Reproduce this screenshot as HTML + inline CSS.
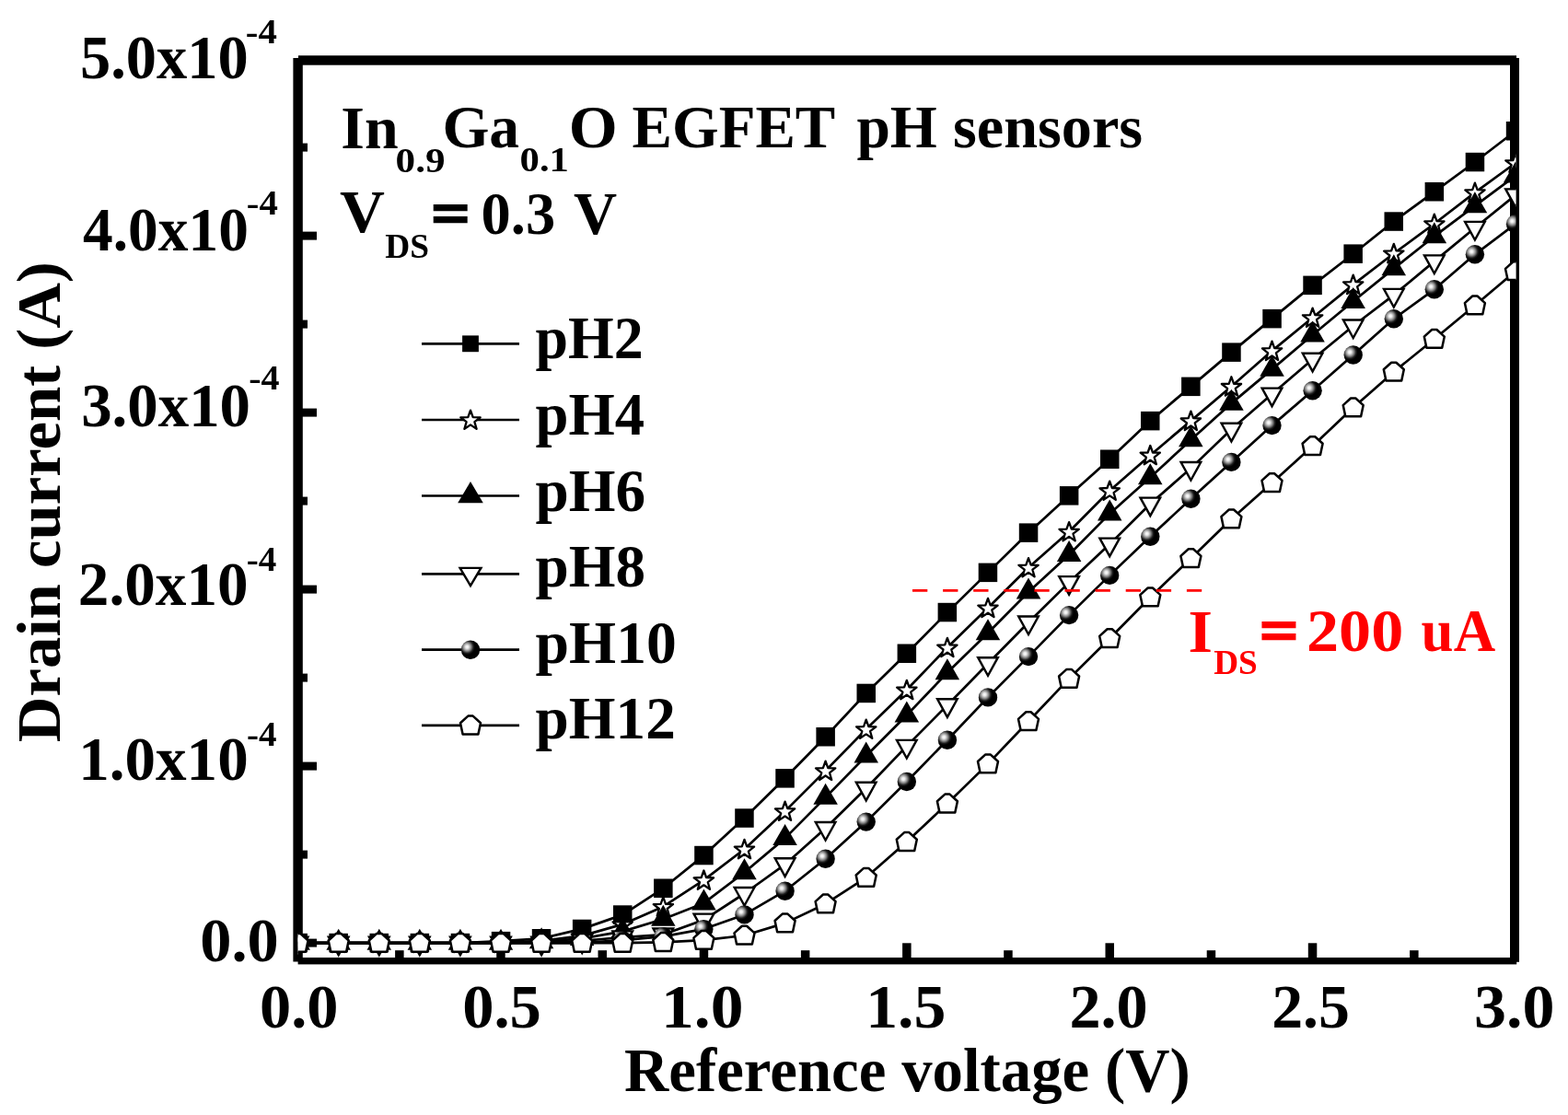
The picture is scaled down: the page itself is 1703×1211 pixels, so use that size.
<!DOCTYPE html>
<html><head><meta charset="utf-8"><title>Drain current vs Reference voltage</title>
<style>
html,body{margin:0;padding:0;background:#fff;}
body{width:1703px;height:1211px;overflow:hidden;}
svg{display:block;}
text{font-family:"Liberation Serif","Times New Roman",serif;font-weight:bold;fill:#000;}
.o{fill:#fff;stroke:#000;stroke-width:2.4;stroke-linejoin:miter;}
.os{fill:#fff;stroke:#000;stroke-width:2.3;stroke-linejoin:round;}
.op{fill:#fff;stroke:#000;stroke-width:2.5;stroke-linejoin:round;}
.ln{fill:none;stroke:#000;stroke-width:2.7;stroke-linejoin:round;}
</style></head><body>
<svg width="1703" height="1211" viewBox="0 0 1703 1211">
<defs>
<radialGradient id="ball" cx="0.32" cy="0.35" r="0.42" fx="0.32" fy="0.35">
<stop offset="0" stop-color="#fff"/>
<stop offset="0.2" stop-color="#e8e8e8"/>
<stop offset="0.5" stop-color="#8c8c8c"/>
<stop offset="0.8" stop-color="#1c1c1c"/>
<stop offset="1" stop-color="#000"/>
</radialGradient>
<clipPath id="plot"><rect x="323.6" y="65" width="1323" height="978.7"/></clipPath>
</defs>
<rect x="0" y="0" width="1703" height="1211" fill="#fff"/>

<g fill="#000">
<rect x="318.4" y="63" width="10.4" height="981.5"/>
<rect x="324" y="60.3" width="1323" height="10.4"/>
<rect x="1640" y="63" width="10" height="981.8"/>
<rect x="323.6" y="1040" width="1323.6" height="7.4"/>
</g>
<g fill="#000"><rect x="328" y="1019.6" width="16" height="9"/><rect x="328" y="827.6" width="16" height="9"/><rect x="328" y="635.6" width="16" height="9"/><rect x="328" y="443.6" width="16" height="9"/><rect x="328" y="251.6" width="16" height="9"/><rect x="328" y="923.6" width="6" height="9"/><rect x="328" y="731.6" width="6" height="9"/><rect x="328" y="539.6" width="6" height="9"/><rect x="328" y="347.6" width="6" height="9"/><rect x="328" y="155.6" width="6" height="9"/><rect x="539.2" y="1024.3" width="9.5" height="16"/><rect x="759.7" y="1024.3" width="9.5" height="16"/><rect x="980.1" y="1024.3" width="9.5" height="16"/><rect x="1200.5" y="1024.3" width="9.5" height="16"/><rect x="1420.8" y="1024.3" width="9.5" height="16"/><rect x="429.1" y="1032.2" width="9.5" height="8"/><rect x="649.5" y="1032.2" width="9.5" height="8"/><rect x="869.9" y="1032.2" width="9.5" height="8"/><rect x="1090.2" y="1032.2" width="9.5" height="8"/><rect x="1310.7" y="1032.2" width="9.5" height="8"/><rect x="1531.1" y="1032.2" width="9.5" height="8"/></g>
<g clip-path="url(#plot)">
<polyline class="ln" points="323.6,1024.1 367.7,1024.1 411.8,1024.1 455.8,1024.1 499.9,1024.1 544.0,1022.2 588.1,1019.3 632.2,1008.9 676.2,993.6 720.3,964.8 764.4,929.1 808.5,888.5 852.6,845.3 896.6,800.2 940.7,753.0 984.8,709.8 1028.9,665.1 1073.0,621.9 1117.0,578.7 1161.1,538.3 1205.2,498.8 1249.3,457.1 1293.4,419.9 1337.4,382.6 1381.5,346.1 1425.6,309.9 1469.7,275.7 1513.8,240.5 1557.8,208.3 1601.9,176.0 1646.0,142.2"/>
<g><rect x="313.4" y="1013.8" width="20.5" height="20.5"/><rect x="357.4" y="1013.8" width="20.5" height="20.5"/><rect x="401.5" y="1013.8" width="20.5" height="20.5"/><rect x="445.6" y="1013.8" width="20.5" height="20.5"/><rect x="489.7" y="1013.8" width="20.5" height="20.5"/><rect x="533.8" y="1011.9" width="20.5" height="20.5"/><rect x="577.8" y="1009.0" width="20.5" height="20.5"/><rect x="621.9" y="998.7" width="20.5" height="20.5"/><rect x="666.0" y="983.3" width="20.5" height="20.5"/><rect x="710.1" y="954.5" width="20.5" height="20.5"/><rect x="754.2" y="918.8" width="20.5" height="20.5"/><rect x="798.2" y="878.3" width="20.5" height="20.5"/><rect x="842.3" y="835.1" width="20.5" height="20.5"/><rect x="886.4" y="790.0" width="20.5" height="20.5"/><rect x="930.5" y="742.7" width="20.5" height="20.5"/><rect x="974.6" y="699.5" width="20.5" height="20.5"/><rect x="1018.6" y="654.8" width="20.5" height="20.5"/><rect x="1062.7" y="611.6" width="20.5" height="20.5"/><rect x="1106.8" y="568.4" width="20.5" height="20.5"/><rect x="1150.9" y="528.1" width="20.5" height="20.5"/><rect x="1195.0" y="488.5" width="20.5" height="20.5"/><rect x="1239.0" y="446.9" width="20.5" height="20.5"/><rect x="1283.1" y="409.6" width="20.5" height="20.5"/><rect x="1327.2" y="372.4" width="20.5" height="20.5"/><rect x="1371.3" y="335.9" width="20.5" height="20.5"/><rect x="1415.3" y="299.6" width="20.5" height="20.5"/><rect x="1459.4" y="265.4" width="20.5" height="20.5"/><rect x="1503.5" y="230.3" width="20.5" height="20.5"/><rect x="1547.6" y="198.0" width="20.5" height="20.5"/><rect x="1591.7" y="165.8" width="20.5" height="20.5"/><rect x="1635.8" y="132.0" width="20.5" height="20.5"/></g>
<polyline class="ln" points="323.6,1024.1 367.7,1024.1 411.8,1024.1 455.8,1024.1 499.9,1024.1 544.0,1024.1 588.1,1021.8 632.2,1016.4 676.2,1003.9 720.3,984.7 764.4,955.9 808.5,922.3 852.6,881.1 896.6,837.1 940.7,792.0 984.8,749.3 1028.9,703.3 1073.0,660.3 1117.0,616.5 1161.1,577.5 1205.2,533.0 1249.3,494.4 1293.4,457.1 1337.4,419.7 1381.5,381.1 1425.6,345.0 1469.7,309.1 1513.8,275.3 1557.8,243.0 1601.9,209.1 1646.0,177.0"/>
<g><polygon class="os" points="323.6,1013.7 326.3,1021.2 334.3,1021.4 328.0,1026.3 330.2,1034.0 323.6,1029.5 317.0,1034.0 319.2,1026.3 312.9,1021.4 320.9,1021.2"/><polygon class="os" points="367.7,1013.7 370.4,1021.2 378.3,1021.4 372.1,1026.3 374.3,1034.0 367.7,1029.5 361.1,1034.0 363.3,1026.3 357.0,1021.4 365.0,1021.2"/><polygon class="os" points="411.8,1013.7 414.5,1021.2 422.4,1021.4 416.1,1026.3 418.3,1034.0 411.8,1029.5 405.2,1034.0 407.4,1026.3 401.1,1021.4 409.1,1021.2"/><polygon class="os" points="455.8,1013.7 458.5,1021.2 466.5,1021.4 460.2,1026.3 462.4,1034.0 455.8,1029.5 449.3,1034.0 451.5,1026.3 445.2,1021.4 453.1,1021.2"/><polygon class="os" points="499.9,1013.7 502.6,1021.2 510.6,1021.4 504.3,1026.3 506.5,1034.0 499.9,1029.5 493.3,1034.0 495.5,1026.3 489.3,1021.4 497.2,1021.2"/><polygon class="os" points="544.0,1013.7 546.7,1021.2 554.7,1021.4 548.4,1026.3 550.6,1034.0 544.0,1029.5 537.4,1034.0 539.6,1026.3 533.3,1021.4 541.3,1021.2"/><polygon class="os" points="588.1,1011.4 590.8,1018.9 598.7,1019.1 592.5,1024.0 594.7,1031.7 588.1,1027.2 581.5,1031.7 583.7,1024.0 577.4,1019.1 585.4,1018.9"/><polygon class="os" points="632.2,1006.0 634.9,1013.5 642.8,1013.8 636.5,1018.6 638.7,1026.3 632.2,1021.8 625.6,1026.3 627.8,1018.6 621.5,1013.8 629.5,1013.5"/><polygon class="os" points="676.2,993.5 678.9,1001.0 686.9,1001.3 680.6,1006.2 682.8,1013.8 676.2,1009.3 669.7,1013.8 671.9,1006.2 665.6,1001.3 673.5,1001.0"/><polygon class="os" points="720.3,974.3 723.0,981.8 731.0,982.1 724.7,987.0 726.9,994.6 720.3,990.1 713.7,994.6 715.9,987.0 709.7,982.1 717.6,981.8"/><polygon class="os" points="764.4,945.5 767.1,953.0 775.1,953.3 768.8,958.2 771.0,965.8 764.4,961.3 757.8,965.8 760.0,958.2 753.7,953.3 761.7,953.0"/><polygon class="os" points="808.5,911.9 811.2,919.4 819.1,919.7 812.9,924.6 815.1,932.2 808.5,927.7 801.9,932.2 804.1,924.6 797.8,919.7 805.8,919.4"/><polygon class="os" points="852.6,870.7 855.3,878.1 863.2,878.4 856.9,883.3 859.1,890.9 852.6,886.5 846.0,890.9 848.2,883.3 841.9,878.4 849.9,878.1"/><polygon class="os" points="896.6,826.7 899.3,834.2 907.3,834.4 901.0,839.3 903.2,847.0 896.6,842.5 890.1,847.0 892.3,839.3 886.0,834.4 893.9,834.2"/><polygon class="os" points="940.7,781.6 943.4,789.1 951.4,789.3 945.1,794.2 947.3,801.8 940.7,797.4 934.1,801.8 936.3,794.2 930.1,789.3 938.0,789.1"/><polygon class="os" points="984.8,738.9 987.5,746.4 995.5,746.7 989.2,751.6 991.4,759.2 984.8,754.7 978.2,759.2 980.4,751.6 974.1,746.7 982.1,746.4"/><polygon class="os" points="1028.9,692.9 1031.6,700.3 1039.5,700.6 1033.3,705.5 1035.5,713.1 1028.9,708.7 1022.3,713.1 1024.5,705.5 1018.2,700.6 1026.2,700.3"/><polygon class="os" points="1073.0,649.9 1075.7,657.3 1083.6,657.6 1077.3,662.5 1079.5,670.1 1073.0,665.7 1066.4,670.1 1068.6,662.5 1062.3,657.6 1070.3,657.3"/><polygon class="os" points="1117.0,606.1 1119.7,613.6 1127.7,613.8 1121.4,618.7 1123.6,626.3 1117.0,621.9 1110.5,626.3 1112.7,618.7 1106.4,613.8 1114.3,613.6"/><polygon class="os" points="1161.1,567.1 1163.8,574.6 1171.8,574.8 1165.5,579.7 1167.7,587.4 1161.1,582.9 1154.5,587.4 1156.7,579.7 1150.5,574.8 1158.4,574.6"/><polygon class="os" points="1205.2,522.6 1207.9,530.0 1215.9,530.3 1209.6,535.2 1211.8,542.8 1205.2,538.4 1198.6,542.8 1200.8,535.2 1194.5,530.3 1202.5,530.0"/><polygon class="os" points="1249.3,484.0 1252.0,491.5 1259.9,491.7 1253.7,496.6 1255.9,504.2 1249.3,499.8 1242.7,504.2 1244.9,496.6 1238.6,491.7 1246.6,491.5"/><polygon class="os" points="1293.4,446.7 1296.1,454.2 1304.0,454.5 1297.7,459.3 1299.9,467.0 1293.4,462.5 1286.8,467.0 1289.0,459.3 1282.7,454.5 1290.7,454.2"/><polygon class="os" points="1337.4,409.3 1340.1,416.8 1348.1,417.0 1341.8,421.9 1344.0,429.5 1337.4,425.1 1330.9,429.5 1333.1,421.9 1326.8,417.0 1334.7,416.8"/><polygon class="os" points="1381.5,370.7 1384.2,378.2 1392.2,378.4 1385.9,383.3 1388.1,391.0 1381.5,386.5 1374.9,391.0 1377.1,383.3 1370.9,378.4 1378.8,378.2"/><polygon class="os" points="1425.6,334.6 1428.3,342.1 1436.3,342.3 1430.0,347.2 1432.2,354.9 1425.6,350.4 1419.0,354.9 1421.2,347.2 1414.9,342.3 1422.9,342.1"/><polygon class="os" points="1469.7,298.7 1472.4,306.2 1480.3,306.4 1474.1,311.3 1476.3,319.0 1469.7,314.5 1463.1,319.0 1465.3,311.3 1459.0,306.4 1467.0,306.2"/><polygon class="os" points="1513.8,264.9 1516.5,272.4 1524.4,272.6 1518.1,277.5 1520.3,285.2 1513.8,280.7 1507.2,285.2 1509.4,277.5 1503.1,272.6 1511.1,272.4"/><polygon class="os" points="1557.8,232.6 1560.5,240.1 1568.5,240.4 1562.2,245.3 1564.4,252.9 1557.8,248.4 1551.3,252.9 1553.5,245.3 1547.2,240.4 1555.1,240.1"/><polygon class="os" points="1601.9,198.7 1604.6,206.1 1612.6,206.4 1606.3,211.3 1608.5,218.9 1601.9,214.5 1595.3,218.9 1597.5,211.3 1591.3,206.4 1599.2,206.1"/><polygon class="os" points="1646.0,166.6 1648.7,174.1 1656.7,174.3 1650.4,179.2 1652.6,186.9 1646.0,182.4 1639.4,186.9 1641.6,179.2 1635.3,174.3 1643.3,174.1"/></g>
<polyline class="ln" points="323.6,1024.1 367.7,1024.1 411.8,1024.1 455.8,1024.1 499.9,1024.1 544.0,1024.1 588.1,1022.6 632.2,1019.3 676.2,1011.6 720.3,998.2 764.4,980.9 808.5,947.5 852.6,910.4 896.6,866.1 940.7,821.0 984.8,776.8 1028.9,730.5 1073.0,687.5 1117.0,643.0 1161.1,602.5 1205.2,557.9 1249.3,518.6 1293.4,477.7 1337.4,438.1 1381.5,401.1 1425.6,363.8 1469.7,327.3 1513.8,291.6 1557.8,256.7 1601.9,223.7 1646.0,190.8"/>
<g><polygon points="323.6,1008.8 336.9,1031.8 310.4,1031.8"/><polygon points="367.7,1008.8 380.9,1031.8 354.4,1031.8"/><polygon points="411.8,1008.8 425.0,1031.8 398.5,1031.8"/><polygon points="455.8,1008.8 469.1,1031.8 442.6,1031.8"/><polygon points="499.9,1008.8 513.2,1031.8 486.7,1031.8"/><polygon points="544.0,1008.8 557.2,1031.8 530.8,1031.8"/><polygon points="588.1,1007.2 601.3,1030.2 574.8,1030.2"/><polygon points="632.2,1004.0 645.4,1027.0 618.9,1027.0"/><polygon points="676.2,996.3 689.5,1019.3 663.0,1019.3"/><polygon points="720.3,982.8 733.6,1005.8 707.1,1005.8"/><polygon points="764.4,965.6 777.7,988.6 751.2,988.6"/><polygon points="808.5,932.2 821.7,955.2 795.2,955.2"/><polygon points="852.6,895.1 865.8,918.1 839.3,918.1"/><polygon points="896.6,850.8 909.9,873.8 883.4,873.8"/><polygon points="940.7,805.6 954.0,828.6 927.5,828.6"/><polygon points="984.8,761.5 998.1,784.5 971.6,784.5"/><polygon points="1028.9,715.2 1042.1,738.2 1015.6,738.2"/><polygon points="1073.0,672.2 1086.2,695.2 1059.7,695.2"/><polygon points="1117.0,627.6 1130.3,650.6 1103.8,650.6"/><polygon points="1161.1,587.1 1174.4,610.1 1147.9,610.1"/><polygon points="1205.2,542.6 1218.5,565.6 1192.0,565.6"/><polygon points="1249.3,503.2 1262.5,526.2 1236.0,526.2"/><polygon points="1293.4,462.3 1306.6,485.3 1280.1,485.3"/><polygon points="1337.4,422.8 1350.7,445.8 1324.2,445.8"/><polygon points="1381.5,385.7 1394.8,408.7 1368.3,408.7"/><polygon points="1425.6,348.5 1438.8,371.5 1412.3,371.5"/><polygon points="1469.7,312.0 1482.9,335.0 1456.4,335.0"/><polygon points="1513.8,276.3 1527.0,299.3 1500.5,299.3"/><polygon points="1557.8,241.3 1571.1,264.3 1544.6,264.3"/><polygon points="1601.9,208.3 1615.2,231.3 1588.7,231.3"/><polygon points="1646.0,175.5 1659.2,198.5 1632.8,198.5"/></g>
<polyline class="ln" points="323.6,1024.1 367.7,1024.1 411.8,1024.1 455.8,1024.1 499.9,1024.1 544.0,1024.1 588.1,1024.1 632.2,1021.8 676.2,1018.0 720.3,1015.1 764.4,999.1 808.5,970.5 852.6,938.9 896.6,899.5 940.7,856.3 984.8,810.4 1028.9,765.9 1073.0,720.7 1117.0,676.0 1161.1,632.6 1205.2,591.1 1249.3,547.2 1293.4,508.6 1337.4,466.3 1381.5,428.1 1425.6,390.3 1469.7,354.0 1513.8,320.4 1557.8,283.9 1601.9,247.5 1646.0,211.9"/>
<g><polygon class="o" points="312.8,1017.6 334.4,1017.6 323.6,1037.2"/><polygon class="o" points="356.9,1017.6 378.5,1017.6 367.7,1037.2"/><polygon class="o" points="401.0,1017.6 422.6,1017.6 411.8,1037.2"/><polygon class="o" points="445.0,1017.6 466.6,1017.6 455.8,1037.2"/><polygon class="o" points="489.1,1017.6 510.7,1017.6 499.9,1037.2"/><polygon class="o" points="533.2,1017.6 554.8,1017.6 544.0,1037.2"/><polygon class="o" points="577.3,1017.6 598.9,1017.6 588.1,1037.2"/><polygon class="o" points="621.4,1015.3 643.0,1015.3 632.2,1034.9"/><polygon class="o" points="665.4,1011.4 687.0,1011.4 676.2,1031.0"/><polygon class="o" points="709.5,1008.5 731.1,1008.5 720.3,1028.1"/><polygon class="o" points="753.6,992.6 775.2,992.6 764.4,1012.2"/><polygon class="o" points="797.7,964.0 819.3,964.0 808.5,983.6"/><polygon class="o" points="841.8,932.3 863.4,932.3 852.6,951.9"/><polygon class="o" points="885.8,893.0 907.4,893.0 896.6,912.6"/><polygon class="o" points="929.9,849.8 951.5,849.8 940.7,869.4"/><polygon class="o" points="974.0,803.9 995.6,803.9 984.8,823.5"/><polygon class="o" points="1018.1,759.3 1039.7,759.3 1028.9,778.9"/><polygon class="o" points="1062.2,714.2 1083.8,714.2 1073.0,733.8"/><polygon class="o" points="1106.2,669.5 1127.8,669.5 1117.0,689.1"/><polygon class="o" points="1150.3,626.1 1171.9,626.1 1161.1,645.7"/><polygon class="o" points="1194.4,584.6 1216.0,584.6 1205.2,604.2"/><polygon class="o" points="1238.5,540.6 1260.1,540.6 1249.3,560.2"/><polygon class="o" points="1282.6,502.0 1304.2,502.0 1293.4,521.6"/><polygon class="o" points="1326.6,459.8 1348.2,459.8 1337.4,479.4"/><polygon class="o" points="1370.7,421.6 1392.3,421.6 1381.5,441.2"/><polygon class="o" points="1414.8,383.8 1436.4,383.8 1425.6,403.4"/><polygon class="o" points="1458.9,347.5 1480.5,347.5 1469.7,367.1"/><polygon class="o" points="1503.0,313.9 1524.6,313.9 1513.8,333.5"/><polygon class="o" points="1547.0,277.4 1568.6,277.4 1557.8,297.0"/><polygon class="o" points="1591.1,240.9 1612.7,240.9 1601.9,260.5"/><polygon class="o" points="1635.2,205.4 1656.8,205.4 1646.0,225.0"/></g>
<polyline class="ln" points="323.6,1024.1 367.7,1024.1 411.8,1024.1 455.8,1024.1 499.9,1024.1 544.0,1024.1 588.1,1024.1 632.2,1024.1 676.2,1021.2 720.3,1017.2 764.4,1009.1 808.5,993.4 852.6,967.7 896.6,932.7 940.7,892.6 984.8,849.0 1028.9,803.7 1073.0,757.4 1117.0,713.1 1161.1,668.1 1205.2,624.9 1249.3,582.7 1293.4,541.8 1337.4,501.9 1381.5,462.1 1425.6,424.3 1469.7,385.5 1513.8,346.3 1557.8,314.3 1601.9,276.3 1646.0,243.2"/>
<g><circle cx="323.6" cy="1024.1" r="10.2" fill="url(#ball)"/><circle cx="367.7" cy="1024.1" r="10.2" fill="url(#ball)"/><circle cx="411.8" cy="1024.1" r="10.2" fill="url(#ball)"/><circle cx="455.8" cy="1024.1" r="10.2" fill="url(#ball)"/><circle cx="499.9" cy="1024.1" r="10.2" fill="url(#ball)"/><circle cx="544.0" cy="1024.1" r="10.2" fill="url(#ball)"/><circle cx="588.1" cy="1024.1" r="10.2" fill="url(#ball)"/><circle cx="632.2" cy="1024.1" r="10.2" fill="url(#ball)"/><circle cx="676.2" cy="1021.2" r="10.2" fill="url(#ball)"/><circle cx="720.3" cy="1017.2" r="10.2" fill="url(#ball)"/><circle cx="764.4" cy="1009.1" r="10.2" fill="url(#ball)"/><circle cx="808.5" cy="993.4" r="10.2" fill="url(#ball)"/><circle cx="852.6" cy="967.7" r="10.2" fill="url(#ball)"/><circle cx="896.6" cy="932.7" r="10.2" fill="url(#ball)"/><circle cx="940.7" cy="892.6" r="10.2" fill="url(#ball)"/><circle cx="984.8" cy="849.0" r="10.2" fill="url(#ball)"/><circle cx="1028.9" cy="803.7" r="10.2" fill="url(#ball)"/><circle cx="1073.0" cy="757.4" r="10.2" fill="url(#ball)"/><circle cx="1117.0" cy="713.1" r="10.2" fill="url(#ball)"/><circle cx="1161.1" cy="668.1" r="10.2" fill="url(#ball)"/><circle cx="1205.2" cy="624.9" r="10.2" fill="url(#ball)"/><circle cx="1249.3" cy="582.7" r="10.2" fill="url(#ball)"/><circle cx="1293.4" cy="541.8" r="10.2" fill="url(#ball)"/><circle cx="1337.4" cy="501.9" r="10.2" fill="url(#ball)"/><circle cx="1381.5" cy="462.1" r="10.2" fill="url(#ball)"/><circle cx="1425.6" cy="424.3" r="10.2" fill="url(#ball)"/><circle cx="1469.7" cy="385.5" r="10.2" fill="url(#ball)"/><circle cx="1513.8" cy="346.3" r="10.2" fill="url(#ball)"/><circle cx="1557.8" cy="314.3" r="10.2" fill="url(#ball)"/><circle cx="1601.9" cy="276.3" r="10.2" fill="url(#ball)"/><circle cx="1646.0" cy="243.2" r="10.2" fill="url(#ball)"/></g>
<polyline class="ln" points="323.6,1024.1 367.7,1024.1 411.8,1024.1 455.8,1024.1 499.9,1024.1 544.0,1024.1 588.1,1024.1 632.2,1024.1 676.2,1024.1 720.3,1023.3 764.4,1021.2 808.5,1016.0 852.6,1002.6 896.6,981.7 940.7,953.1 984.8,914.3 1028.9,872.8 1073.0,829.6 1117.0,783.5 1161.1,737.1 1205.2,693.5 1249.3,648.7 1293.4,606.5 1337.4,563.7 1381.5,524.5 1425.6,484.4 1469.7,442.7 1513.8,403.9 1557.8,368.2 1601.9,331.7 1646.0,294.5"/>
<g><polygon class="op" points="321.0,1013.9 326.2,1013.9 334.6,1021.5 332.0,1033.7 315.2,1033.7 312.6,1021.5"/><polygon class="op" points="365.1,1013.9 370.3,1013.9 378.7,1021.5 376.1,1033.7 359.3,1033.7 356.7,1021.5"/><polygon class="op" points="409.2,1013.9 414.4,1013.9 422.8,1021.5 420.2,1033.7 403.4,1033.7 400.8,1021.5"/><polygon class="op" points="453.2,1013.9 458.4,1013.9 466.8,1021.5 464.2,1033.7 447.4,1033.7 444.8,1021.5"/><polygon class="op" points="497.3,1013.9 502.5,1013.9 510.9,1021.5 508.3,1033.7 491.5,1033.7 488.9,1021.5"/><polygon class="op" points="541.4,1013.9 546.6,1013.9 555.0,1021.5 552.4,1033.7 535.6,1033.7 533.0,1021.5"/><polygon class="op" points="585.5,1013.9 590.7,1013.9 599.1,1021.5 596.5,1033.7 579.7,1033.7 577.1,1021.5"/><polygon class="op" points="629.6,1013.9 634.8,1013.9 643.2,1021.5 640.6,1033.7 623.8,1033.7 621.2,1021.5"/><polygon class="op" points="673.6,1013.9 678.8,1013.9 687.2,1021.5 684.6,1033.7 667.8,1033.7 665.2,1021.5"/><polygon class="op" points="717.7,1013.1 722.9,1013.1 731.3,1020.7 728.7,1032.9 711.9,1032.9 709.3,1020.7"/><polygon class="op" points="761.8,1011.0 767.0,1011.0 775.4,1018.6 772.8,1030.8 756.0,1030.8 753.4,1018.6"/><polygon class="op" points="805.9,1005.8 811.1,1005.8 819.5,1013.4 816.9,1025.6 800.1,1025.6 797.5,1013.4"/><polygon class="op" points="850.0,992.4 855.2,992.4 863.6,1000.0 861.0,1012.2 844.2,1012.2 841.6,1000.0"/><polygon class="op" points="894.0,971.5 899.2,971.5 907.6,979.1 905.0,991.3 888.2,991.3 885.6,979.1"/><polygon class="op" points="938.1,942.9 943.3,942.9 951.7,950.5 949.1,962.7 932.3,962.7 929.7,950.5"/><polygon class="op" points="982.2,904.1 987.4,904.1 995.8,911.7 993.2,923.9 976.4,923.9 973.8,911.7"/><polygon class="op" points="1026.3,862.6 1031.5,862.6 1039.9,870.2 1037.3,882.4 1020.5,882.4 1017.9,870.2"/><polygon class="op" points="1070.4,819.4 1075.6,819.4 1084.0,827.0 1081.4,839.2 1064.6,839.2 1062.0,827.0"/><polygon class="op" points="1114.4,773.3 1119.6,773.3 1128.0,780.9 1125.4,793.1 1108.6,793.1 1106.0,780.9"/><polygon class="op" points="1158.5,726.9 1163.7,726.9 1172.1,734.5 1169.5,746.7 1152.7,746.7 1150.1,734.5"/><polygon class="op" points="1202.6,683.3 1207.8,683.3 1216.2,690.9 1213.6,703.1 1196.8,703.1 1194.2,690.9"/><polygon class="op" points="1246.7,638.5 1251.9,638.5 1260.3,646.1 1257.7,658.3 1240.9,658.3 1238.3,646.1"/><polygon class="op" points="1290.8,596.3 1296.0,596.3 1304.4,603.9 1301.8,616.1 1285.0,616.1 1282.4,603.9"/><polygon class="op" points="1334.8,553.5 1340.0,553.5 1348.4,561.1 1345.8,573.3 1329.0,573.3 1326.4,561.1"/><polygon class="op" points="1378.9,514.3 1384.1,514.3 1392.5,521.9 1389.9,534.1 1373.1,534.1 1370.5,521.9"/><polygon class="op" points="1423.0,474.2 1428.2,474.2 1436.6,481.8 1434.0,494.0 1417.2,494.0 1414.6,481.8"/><polygon class="op" points="1467.1,432.5 1472.3,432.5 1480.7,440.1 1478.1,452.3 1461.3,452.3 1458.7,440.1"/><polygon class="op" points="1511.2,393.7 1516.4,393.7 1524.8,401.3 1522.2,413.5 1505.4,413.5 1502.8,401.3"/><polygon class="op" points="1555.2,358.0 1560.4,358.0 1568.8,365.6 1566.2,377.8 1549.4,377.8 1546.8,365.6"/><polygon class="op" points="1599.3,321.5 1604.5,321.5 1612.9,329.1 1610.3,341.3 1593.5,341.3 1590.9,329.1"/><polygon class="op" points="1643.4,284.3 1648.6,284.3 1657.0,291.9 1654.4,304.1 1637.6,304.1 1635.0,291.9"/></g>
</g>
<line x1="991" y1="641.4" x2="1306" y2="641.4" stroke="#f00" stroke-width="2.9" stroke-dasharray="16.3 16.8"/>
<text x="87.00" y="84.80" font-size="67" textLength="182.81" lengthAdjust="spacingAndGlyphs">5.0x10</text>
<text x="266.80" y="47.30" font-size="38" textLength="34.01" lengthAdjust="spacingAndGlyphs">-4</text>
<text x="90.00" y="271.70" font-size="67" textLength="179.96" lengthAdjust="spacingAndGlyphs">4.0x10</text>
<text x="267.80" y="232.80" font-size="38" textLength="34.01" lengthAdjust="spacingAndGlyphs">-4</text>
<text x="88.20" y="462.70" font-size="67" textLength="183.83" lengthAdjust="spacingAndGlyphs">3.0x10</text>
<text x="270.20" y="422.80" font-size="38" textLength="33.36" lengthAdjust="spacingAndGlyphs">-4</text>
<text x="84.80" y="657.40" font-size="67" textLength="184.87" lengthAdjust="spacingAndGlyphs">2.0x10</text>
<text x="267.80" y="619.60" font-size="38" textLength="32.57" lengthAdjust="spacingAndGlyphs">-4</text>
<text x="85.20" y="847.00" font-size="67" textLength="184.48" lengthAdjust="spacingAndGlyphs">1.0x10</text>
<text x="268.00" y="810.00" font-size="38" textLength="32.53" lengthAdjust="spacingAndGlyphs">-4</text>
<text x="217.20" y="1044.30" font-size="67" textLength="85.48" lengthAdjust="spacingAndGlyphs">0.0</text>
<text x="282.00" y="1116.40" font-size="67" textLength="85.46" lengthAdjust="spacingAndGlyphs">0.0</text>
<text x="502.20" y="1116.40" font-size="67" textLength="85.70" lengthAdjust="spacingAndGlyphs">0.5</text>
<text x="718.00" y="1116.40" font-size="67" textLength="89.49" lengthAdjust="spacingAndGlyphs">1.0</text>
<text x="940.20" y="1116.40" font-size="67" textLength="87.28" lengthAdjust="spacingAndGlyphs">1.5</text>
<text x="1161.40" y="1116.40" font-size="67" textLength="85.27" lengthAdjust="spacingAndGlyphs">2.0</text>
<text x="1381.20" y="1116.40" font-size="67" textLength="84.84" lengthAdjust="spacingAndGlyphs">2.5</text>
<text x="1601.00" y="1116.40" font-size="67" textLength="87.43" lengthAdjust="spacingAndGlyphs">3.0</text>
<text x="678.00" y="1184.80" font-size="67" textLength="614.76" lengthAdjust="spacingAndGlyphs">Reference voltage (V)</text>
<text x="370.20" y="160.70" font-size="66" textLength="62.42" lengthAdjust="spacingAndGlyphs">In</text>
<text x="429.60" y="187.00" font-size="38" textLength="53.88" lengthAdjust="spacingAndGlyphs">0.9</text>
<text x="480.40" y="160.30" font-size="66" textLength="83.72" lengthAdjust="spacingAndGlyphs">Ga</text>
<text x="564.60" y="186.00" font-size="38" textLength="53.38" lengthAdjust="spacingAndGlyphs">0.1</text>
<text x="617.80" y="160.30" font-size="66" textLength="52.97" lengthAdjust="spacingAndGlyphs">O</text>
<text x="686.60" y="160.30" font-size="66" textLength="220.71" lengthAdjust="spacingAndGlyphs">EGFET</text>
<text x="930.40" y="160.30" font-size="66" textLength="87.46" lengthAdjust="spacingAndGlyphs">pH</text>
<text x="1035.00" y="160.30" font-size="66" textLength="206.16" lengthAdjust="spacingAndGlyphs">sensors</text>
<text x="369.00" y="252.30" font-size="66" textLength="48.94" lengthAdjust="spacingAndGlyphs">V</text>
<text x="418.20" y="279.60" font-size="38" textLength="47.76" lengthAdjust="spacingAndGlyphs">DS</text>
<text x="468.40" y="253.70" font-size="66" style="stroke:#000;stroke-width:2.6;" textLength="41.78" lengthAdjust="spacingAndGlyphs">=</text>
<text x="522.60" y="253.70" font-size="66" textLength="80.59" lengthAdjust="spacingAndGlyphs">0.3</text>
<text x="623.00" y="253.70" font-size="66" textLength="47.11" lengthAdjust="spacingAndGlyphs">V</text>
<text x="1290.40" y="707.70" font-size="66" style="fill:#f00;" textLength="26.46" lengthAdjust="spacingAndGlyphs">I</text>
<text x="1318.20" y="732.00" font-size="38" style="fill:#f00;" textLength="47.57" lengthAdjust="spacingAndGlyphs">DS</text>
<text x="1368.20" y="707.30" font-size="66" style="fill:#f00;stroke:#f00;stroke-width:2.6;" textLength="41.81" lengthAdjust="spacingAndGlyphs">=</text>
<text x="1419.00" y="707.30" font-size="66" style="fill:#f00;" textLength="105.20" lengthAdjust="spacingAndGlyphs">200</text>
<text x="1543.60" y="707.30" font-size="66" style="fill:#f00;" textLength="80.53" lengthAdjust="spacingAndGlyphs">uA</text>
<text x="581.60" y="388.90" font-size="66" textLength="117.11" lengthAdjust="spacingAndGlyphs">pH2</text>
<text x="581.60" y="471.60" font-size="66" textLength="118.61" lengthAdjust="spacingAndGlyphs">pH4</text>
<text x="581.60" y="554.70" font-size="66" textLength="119.62" lengthAdjust="spacingAndGlyphs">pH6</text>
<text x="581.60" y="637.10" font-size="66" textLength="119.64" lengthAdjust="spacingAndGlyphs">pH8</text>
<text x="581.60" y="720.30" font-size="66" textLength="153.24" lengthAdjust="spacingAndGlyphs">pH10</text>
<text x="581.60" y="802.40" font-size="66" textLength="152.22" lengthAdjust="spacingAndGlyphs">pH12</text>
<text transform="translate(64.70,545.20) rotate(-90)" text-anchor="middle" font-size="67" textLength="521.92" lengthAdjust="spacingAndGlyphs">Drain current (A)</text>
<line x1="458" y1="373.3" x2="564" y2="373.3" stroke="#000" stroke-width="2.7"/>
<rect x="502.1" y="364.4" width="17.8" height="17.8"/>
<line x1="458" y1="456.0" x2="564" y2="456.0" stroke="#000" stroke-width="2.7"/>
<polygon class="os" points="511.0,445.6 513.7,453.1 521.7,453.3 515.4,458.2 517.6,465.9 511.0,461.4 504.4,465.9 506.6,458.2 500.3,453.3 508.3,453.1"/>
<line x1="458" y1="538.5" x2="564" y2="538.5" stroke="#000" stroke-width="2.7"/>
<polygon points="511.0,523.0 524.8,546.3 497.2,546.3"/>
<line x1="458" y1="623.3" x2="564" y2="623.3" stroke="#000" stroke-width="2.7"/>
<polygon class="o" points="499.6,616.9 522.4,616.9 511.0,636.1"/>
<line x1="458" y1="705.7" x2="564" y2="705.7" stroke="#000" stroke-width="2.7"/>
<circle cx="511.0" cy="705.7" r="10.2" fill="url(#ball)"/>
<line x1="458" y1="787.8" x2="564" y2="787.8" stroke="#000" stroke-width="2.7"/>
<polygon class="op" points="508.4,777.6 513.6,777.6 522.0,785.2 519.4,797.4 502.6,797.4 500.0,785.2"/>
</svg>
</body></html>
